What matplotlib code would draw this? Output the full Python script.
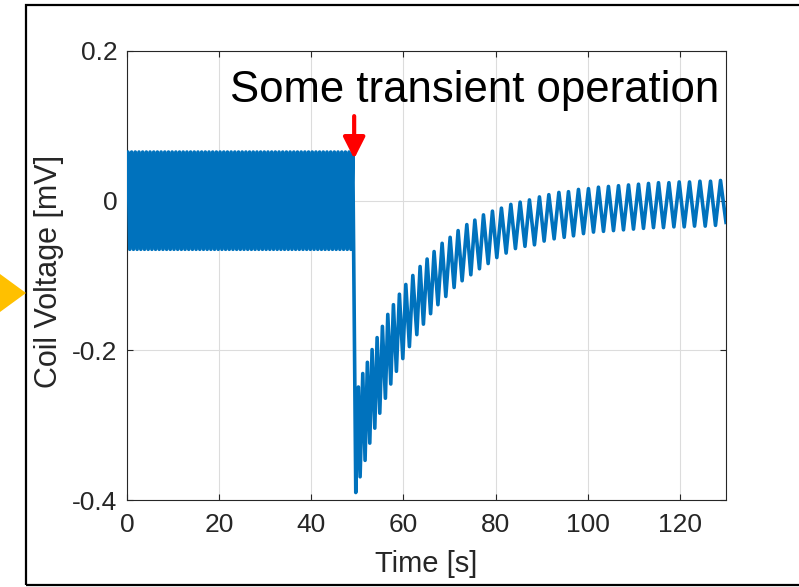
import matplotlib
matplotlib.use("Agg")
import matplotlib.pyplot as plt
from matplotlib.patches import Rectangle, Polygon
import numpy as np

plt.rcParams['font.family'] = ['Liberation Sans', 'DejaVu Sans']
plt.rcParams['axes.unicode_minus'] = False

# ---- data ----
# steady oscillation before the transient (extreme points)
pre_start = (0.0, 0.03)
pre_peak_t = [0.2, 1.0, 1.8, 2.6, 3.4, 4.2, 5.0, 5.8, 6.6, 7.4, 8.2, 9.0, 9.8, 10.6,
              11.4, 12.2, 13.0, 13.8, 14.6, 15.4, 16.2, 17.0, 17.8, 18.6, 19.4, 20.2,
              21.0, 21.8, 22.6, 23.4, 24.2, 25.0, 25.8, 26.6, 27.4, 28.2, 29.0, 29.8,
              30.6, 31.4, 32.2, 33.0, 33.8, 34.6, 35.4, 36.2, 37.0, 37.8, 38.6, 39.4,
              40.2, 41.0, 41.8, 42.6, 43.4, 44.2, 45.0, 45.8, 46.6, 47.4, 48.2, 49.0]
pre_trough_t = [0.6, 1.4, 2.2, 3.0, 3.8, 4.6, 5.4, 6.2, 7.0, 7.8, 8.6, 9.4, 10.2, 11.0,
                11.8, 12.6, 13.4, 14.2, 15.0, 15.8, 16.6, 17.4, 18.2, 19.0, 19.8, 20.6,
                21.4, 22.2, 23.0, 23.8, 24.6, 25.4, 26.2, 27.0, 27.8, 28.6, 29.4, 30.2,
                31.0, 31.8, 32.6, 33.4, 34.2, 35.0, 35.8, 36.6, 37.4, 38.2, 39.0, 39.8,
                40.6, 41.4, 42.2, 43.0, 43.8, 44.6, 45.4, 46.2, 47.0, 47.8, 48.6]
pre_high = 0.065
pre_low = -0.065

# transient response (alternating extreme points)
post_t = [49.65, 50.22, 50.59, 51.17, 51.67, 52.17, 52.69, 53.19, 53.78, 54.28,
          54.86, 55.43, 56.08, 56.60, 57.25, 57.82, 58.47, 59.12, 59.86, 60.51,
          61.29, 62.03, 62.90, 63.61, 64.33, 65.13, 65.89, 66.65, 67.48, 68.39,
          69.19, 70.13, 70.99, 71.86, 72.73, 73.75, 74.62, 75.49, 76.49, 77.36,
          78.38, 79.31, 80.26, 81.26, 82.28, 83.30, 84.30, 85.32, 86.37, 87.34,
          88.43, 89.51, 90.53, 91.55, 92.70, 93.73, 94.88, 95.81, 96.90, 97.98,
          99.07, 100.15, 101.24, 102.32, 103.41, 104.49, 105.58, 106.67, 107.75, 108.84,
          109.92, 111.01, 112.09, 113.18, 114.26, 115.35, 116.43, 117.61, 118.69, 119.84,
          120.93, 122.08, 123.17, 124.34, 125.49, 126.64, 127.72, 128.81, 130.0]
post_v = [-0.390, -0.249, -0.369, -0.231, -0.347, -0.216, -0.324, -0.199, -0.304, -0.183,
          -0.284, -0.168, -0.264, -0.152, -0.245, -0.139, -0.228, -0.125, -0.211, -0.112,
          -0.195, -0.100, -0.179, -0.088, -0.165, -0.078, -0.151, -0.068, -0.139, -0.057,
          -0.128, -0.049, -0.116, -0.040, -0.107, -0.032, -0.099, -0.026, -0.091, -0.019,
          -0.084, -0.014, -0.076, -0.010, -0.070, -0.005, -0.064, -0.002, -0.061, 0.001,
          -0.059, 0.005, -0.054, 0.008, -0.051, 0.011, -0.049, 0.012, -0.047, 0.015,
          -0.044, 0.016, -0.042, 0.018, -0.041, 0.019, -0.040, 0.020, -0.039, 0.021,
          -0.038, 0.022, -0.037, 0.023, -0.036, 0.024, -0.036, 0.024, -0.035, 0.025,
          -0.035, 0.025, -0.034, 0.026, -0.034, 0.026, -0.033, 0.027, -0.029]

x_ticks = [0, 20, 40, 60, 80, 100, 120]
y_ticks = [-0.4, -0.2, 0, 0.2]
y_tick_labels = ['-0.4', '-0.2', '0', '0.2']
annotation_text = 'Some transient operation'
x_label = 'Time [s]'
y_label = 'Coil Voltage [mV]'

# ---- assemble series ----
pre_pts = [pre_start] + [(t, pre_high) for t in pre_peak_t] + [(t, pre_low) for t in pre_trough_t]
pre_pts.sort(key=lambda p: p[0])
t_all = np.array([p[0] for p in pre_pts] + post_t)
v_all = np.array([p[1] for p in pre_pts] + post_v)

# ---- figure ----
W, H = 799, 587
fig = plt.figure(figsize=(W / 100, H / 100), dpi=100)
ax = fig.add_axes([127 / W, 1 - 500 / H, (726 - 127) / W, (500 - 51) / H])

line_color = '#0072BD'
ax.plot(t_all, v_all, color=line_color, lw=2.6, solid_joinstyle='round', zorder=3)

ax.set_xlim(0, 130)
ax.set_ylim(-0.4, 0.2)
ax.set_xticks(x_ticks)
ax.set_yticks(y_ticks)
ax.set_yticklabels(y_tick_labels)

dark = '#262626'
ax.grid(True, color='#dcdcdc', lw=0.8, zorder=0)
ax.set_axisbelow(True)
for s in ax.spines.values():
    s.set_color(dark)
    s.set_linewidth(0.8)
ax.tick_params(direction='in', length=4, width=0.8, color=dark, labelcolor=dark,
               labelsize=19, top=True, right=True)
ax.tick_params(axis='x', pad=9)
ax.tick_params(axis='y', pad=7)

ax.set_xlabel(x_label, fontsize=21, color=dark)
ax.set_ylabel(y_label, fontsize=22, color=dark)
ax.xaxis.set_label_coords(0.5, -0.112)
ax.yaxis.set_label_coords(-0.106, 0.51)

ax.text(22.4, 0.132, annotation_text, fontsize=31.5, color='black',
        ha='left', va='baseline', zorder=5)
ax.annotate('', xy=(49.3, 0.056), xytext=(49.3, 0.113),
            arrowprops=dict(arrowstyle='-|>,head_width=0.33,head_length=0.65',
                            color='#FF0000', lw=3, mutation_scale=20,
                            shrinkA=0, shrinkB=0),
            zorder=6, annotation_clip=False)

# outer frame and side marker
fig.patches.append(Rectangle((26 / W, 2 / H), 1.0, (585 - 5) / H, transform=fig.transFigure,
                             fill=False, ec='black', lw=1.6, figure=fig))
fig.patches.append(Polygon([(0, 1 - 274 / H), (26 / W, 1 - 293 / H), (0, 1 - 312 / H)],
                           closed=True, transform=fig.transFigure, fc='#FFC000',
                           ec='none', figure=fig))

fig.savefig('out.png', dpi=100)
